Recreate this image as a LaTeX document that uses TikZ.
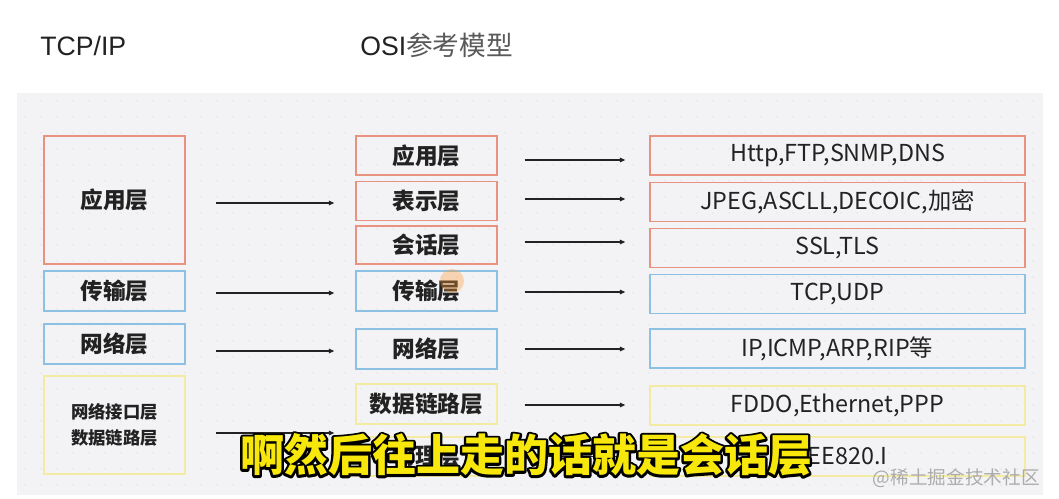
\documentclass[tikz,border=0pt]{standalone}
\usepackage{fontspec}
\setmainfont{Liberation Sans}
\newfontfamily\cjk{Noto Sans CJK SC}
\usetikzlibrary{arrows.meta,calc}
\definecolor{panel}{HTML}{F3F3F5}
\definecolor{dotc}{HTML}{D6D6DA}
\definecolor{rb}{HTML}{E8927F}
\definecolor{bb}{HTML}{8DC1E3}
\definecolor{yb}{HTML}{F3EBA2}
\definecolor{ink}{HTML}{222222}
\definecolor{suby}{HTML}{F7E70A}
\newcommand\subtext{啊然后往上走的话就是会话层}
\newcommand\strokeon{\special{pdf:literal direct 2 Tr 1 j 3.6 w}}
\newcommand\strokeoff{\special{pdf:literal direct 0 Tr 0 j}}
\begin{document}
\begin{tikzpicture}[x=0.75pt,y=-0.75pt,
  box/.style={draw, line width=1.1pt, inner sep=0pt, text=ink,
    font=\cjk\bfseries\fontsize{17}{20}\selectfont},
  rbox/.style={box, draw=rb},
  bbox/.style={box, draw=bb},
  ybox/.style={box, draw=yb},
  proto/.style={font=\cjk\fontsize{17.5}{20}\selectfont},
  sz/.style 2 args={minimum width=#1*0.75pt, minimum height=#2*0.75pt},
  arr/.style={draw=ink, line width=0.9pt, -{Triangle[length=4pt,width=3.4pt]}},
  subt/.style={font=\cjk\bfseries\fontsize{33}{36}\selectfont, inner sep=0pt}
]
\useasboundingbox (0,0) rectangle (1059,499);
\fill[white] (0,0) rectangle (1059,499);
\fill[panel] (17,93) rectangle (1043,495);
\foreach \x in {25,41,...,1035} \foreach \y in {101,117,...,490}
  \fill[dotc] (\x,\y) circle (0.55pt);

% titles
\node[anchor=base west, inner sep=0pt, font=\fontsize{20}{24}\selectfont, text=ink] (t1) at (40,56) {TCP/IP};
\node[anchor=base west, inner sep=0pt, font=\fontsize{20}{24}\selectfont, text=ink] (t2) at (360,56) {OSI{\cjk\color{ink!75}参考模型}};

% TCP/IP column
\node[rbox, sz={141}{128}] (L1) at (114.5,200) {应用层};
\node[bbox, sz={141}{40}] (L2) at (114.5,291) {传输层};
\node[bbox, sz={141}{40}] (L3) at (114.5,344) {网络层};
\node[ybox, sz={141}{98}, align=center, font=\cjk\bfseries\fontsize{13}{19}\selectfont] (L4) at (114.5,425) {网络接口层\\数据链路层};

% OSI column
\node[rbox, sz={141}{39}] (M1) at (426.5,155.5) {应用层};
\node[rbox, sz={141}{39}] (M2) at (426.5,201) {表示层};
\node[rbox, sz={141}{38}] (M3) at (426.5,245) {会话层};
\node[bbox, sz={141}{40}] (M4) at (426.5,291) {传输层};
\node[bbox, sz={141}{40}] (M5) at (426.5,349) {网络层};
\node[ybox, sz={141}{40}] (M6) at (426.5,404) {数据链路层};
\node[ybox, sz={141}{39}] (M7) at (426.5,456.5) {物理层};

% protocol column
\node[rbox, proto, sz={375}{39}] (R1) at (837.5,155.5) {Http,FTP,SNMP,DNS};
\node[rbox, proto, sz={375}{39}] (R2) at (837.5,202) {JPEG,ASCLL,DECOIC,加密};
\node[rbox, proto, sz={375}{39}] (R3) at (837.5,248) {SSL,TLS};
\node[bbox, proto, sz={375}{39}] (R4) at (837.5,294) {TCP,UDP};
\node[bbox, proto, sz={375}{39}] (R5) at (837.5,348.5) {IP,ICMP,ARP,RIP等};
\node[ybox, proto, sz={375}{39}] (R6) at (837.5,405.5) {FDDO,Ethernet,PPP};
\node[ybox, proto, sz={375}{39}] (R7) at (837.5,456.5) {IEEE820.I};

% arrows TCP/IP -> OSI
\draw[arr] ($(L1.east)+(30,3)$) -- ($(M2.west |- L1.east)+(-21,3)$);
\draw[arr] ($(L2.east)+(30,2)$) -- ($(M4.west |- L2.east)+(-21,2)$);
\draw[arr] ($(L3.east)+(30,7)$) -- ($(M5.west |- L3.east)+(-21,7)$);
\draw[arr] ($(L4.east)+(30,8)$) -- ($(M7.west |- L4.east)+(-21,8)$);

% arrows OSI -> protocols
\draw[arr] ($(M1.east)+(27,4.5)$) -- ($(R1.west |- M1.east)+(-24,4.5)$);
\draw[arr] ($(M2.east)+(27,-2)$) -- ($(R2.west |- M2.east)+(-24,-2)$);
\draw[arr] ($(M3.east)+(27,-3)$) -- ($(R3.west |- M3.east)+(-24,-3)$);
\draw[arr] ($(M4.east)+(27,1)$) -- ($(R4.west |- M4.east)+(-24,1)$);
\draw[arr] ($(M5.east)+(27,0)$) -- ($(R5.west |- M5.east)+(-24,0)$);
\draw[arr] ($(M6.east)+(27,1)$) -- ($(R6.west |- M6.east)+(-24,1)$);
\draw[arr] ($(M7.east)+(27,0)$) -- ($(R7.west |- M7.east)+(-24,0)$);

% cursor highlight
\fill[orange!80, opacity=0.35] (452,281) circle (9pt);

% watermark
\node[anchor=east, inner sep=0pt, font=\cjk\fontsize{14}{16}\selectfont, text=gray!65] (wm) at (1040,478) {@稀土掘金技术社区};

% subtitle: black stroked underlay, yellow fill on top
\node[subt, text=black] (subo) at (526,455) {\strokeon\subtext\strokeoff};
\node[subt, text=suby] (sub) at (526,455) {\subtext};
\end{tikzpicture}
\end{document}
